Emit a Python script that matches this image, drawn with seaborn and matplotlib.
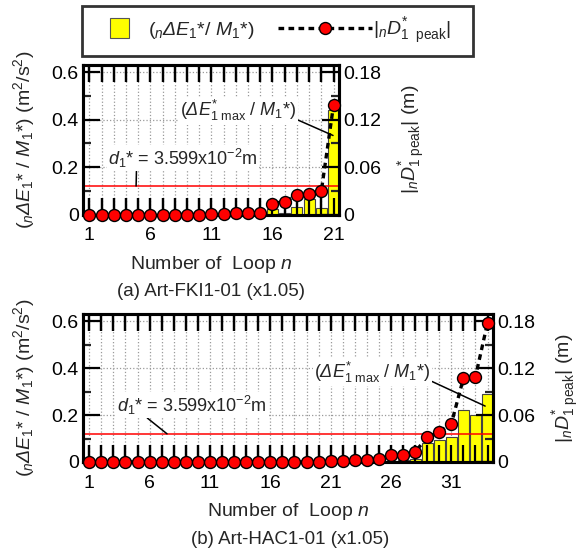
import numpy as np
import matplotlib
matplotlib.use("Agg")
import matplotlib.pyplot as plt
import matplotlib.patches as mpatches
from matplotlib.lines import Line2D
from matplotlib.legend_handler import HandlerPatch, HandlerBase
from matplotlib.ticker import MultipleLocator
import seaborn as sns

sns.set_theme(style="white")
plt.rcParams['font.family'] = ['Liberation Sans', 'DejaVu Sans']
plt.rcParams['mathtext.fontset'] = 'custom'
plt.rcParams['mathtext.rm'] = 'Liberation Sans'
plt.rcParams['mathtext.it'] = 'Liberation Sans:italic'
plt.rcParams['mathtext.sf'] = 'Liberation Sans:italic'
plt.rcParams['mathtext.bf'] = 'Liberation Sans:bold'

# ---------------- data ----------------
loops_a = list(range(1, 22))
energy_a = [0, 0, 0, 0, 0, 0, 0, 0, 0, 0, 0, 0, 0, 0, 0.002,
            0.025, 0.008, 0.032, 0.064, 0.028, 0.44]
disp_a = [0, 0, 0, 0, 0, 0, 0, 0, 0, 0, 0.0005, 0.001, 0.0015, 0.002, 0.0025,
          0.0138, 0.0164, 0.0243, 0.0265, 0.0294, 0.138]

loops_b = list(range(1, 35))
energy_b = [0] * 24 + [0.003, 0.005, 0.008, 0.014, 0.08, 0.094, 0.108,
                       0.22, 0.198, 0.289]
disp_b = [0] * 19 + [0.0005, 0.001, 0.0015, 0.002, 0.003, 0.004, 0.0085,
                     0.009, 0.013, 0.0315, 0.0385, 0.049, 0.107, 0.109, 0.178]

d1 = 0.03599
captions = ["(a) Art-FKI1-01 (x1.05)", "(b) Art-HAC1-01 (x1.05)"]

W, H = 582, 551
fig = plt.figure(figsize=(W / 100, H / 100), dpi=100)


def fx(px):
    return px / W


def fy(py):
    return 1 - py / H


FS = 14
AFS = 13
MS = 8.6
DASH = (0, (1.7, 1.3))
DEL = r'\mathsf{\Delta}'
ylab_left = r'$(_{n}' + DEL + r'E_{1}$* / $M_{1}$*) (m$^{2}$/s$^{2}$)'
ylab_right = r'$|_{n}D^{*}_{1\ \mathrm{peak}}|$ (m)'
ann_max = r'$(' + DEL + r'E^{*}_{1\ \mathrm{max}}$ / $M_{1}$*)'
ann_d1 = r'$d_{1}$* = 3.599x10$^{-2}$m'
leg_labels = [r'$(_{n}' + DEL + r'E_{1}$*/ $M_{1}$*)',
              r'$|_{n}D^{*}_{1\ \ \mathrm{peak}}|$' + '\u2007\u2007']


def panel(box, loops, energy, disp, xlim, caption, cap_x, cap_y,
          lab_l, lab_r, ann_xy, d1_pos, d1_line_x):
    left, top, right, bottom = box
    ax = fig.add_axes([fx(left), fy(bottom), fx(right - left), (bottom - top) / H])
    sns.barplot(x=loops, y=energy, native_scale=True, color='#ffff00',
                saturation=1, edgecolor='#444444', linewidth=0.8, width=0.9,
                ax=ax, zorder=2)
    ax.set_axisbelow(True)
    ax.set_xlim(*xlim)
    ax.set_ylim(0, 0.63)
    ax.set_xticks(loops)
    ax.set_xticklabels([str(i) if (i - 1) % 5 == 0 else '' for i in loops])
    ax.set_yticks([0, 0.2, 0.4, 0.6])
    ax.set_yticklabels(['0', '0.2', '0.4', '0.6'])
    ax.yaxis.set_minor_locator(MultipleLocator(0.1))
    ax.grid(True, which='major', color='#9a9a9a', linestyle=':', linewidth=0.9)
    ax.tick_params(axis='x', which='major', direction='in', length=12, width=1.6,
                   top=True, bottom=True, labelsize=FS, pad=9, colors='black')
    ax.tick_params(axis='y', which='major', direction='in', length=12, width=1.6,
                   left=True, labelsize=FS, pad=3, colors='black')
    ax.tick_params(axis='y', which='minor', direction='in', length=6, width=1.6,
                   left=True)
    ax.set_xlabel(r'Number of  Loop $n$', fontsize=FS, labelpad=7)
    ax.set_ylabel(ylab_left, fontsize=FS)
    ax.yaxis.set_label_coords(lab_l, 0.5)

    ax2 = ax.twinx()
    ax2.set_ylim(0, 0.189)
    ax2.set_yticks([0, 0.06, 0.12, 0.18])
    ax2.set_yticklabels(['0', '0.06', '0.12', '0.18'])
    ax2.yaxis.set_minor_locator(MultipleLocator(0.03))
    ax2.tick_params(axis='y', which='major', direction='in', length=12, width=1.6,
                    right=True, labelsize=FS, pad=3, colors='black')
    ax2.tick_params(axis='y', which='minor', direction='in', length=6, width=1.6,
                    right=True)
    ax2.xaxis.set_visible(True)
    ax2.tick_params(axis='x', which='major', direction='in', length=12, width=1.6,
                    top=True, bottom=True, labelbottom=False, labeltop=False,
                    colors='black')
    ax2.axhline(d1, color='#ff0000', linewidth=1.1, zorder=2)
    sns.lineplot(x=loops, y=disp, ax=ax2, color='black', linewidth=2.4,
                 linestyle=DASH, marker='o', markersize=MS,
                 markerfacecolor='#ff0000', markeredgecolor='black',
                 markeredgewidth=1.0, clip_on=False, zorder=5)
    ax2.set_ylabel(ylab_right, fontsize=FS)
    ax2.yaxis.set_label_coords(lab_r, 0.5)
    ax2.set_xlim(*xlim)

    for a in (ax, ax2):
        for s in a.spines.values():
            s.set_linewidth(2.2)
            s.set_color('black')

    # annotation for maximum
    ax2.annotate(ann_max, xy=ann_xy[0], xycoords=ax.transData,
                 xytext=ann_xy[1], textcoords=ax.transData,
                 fontsize=AFS, ha='center', va='center',
                 bbox=dict(facecolor='white', edgecolor='none', pad=1),
                 arrowprops=dict(arrowstyle='-', color='black', lw=1.1,
                                 shrinkA=0, shrinkB=0, relpos=(1.0, 0.15)),
                 zorder=6)
    # annotation for d1*
    ax2.annotate(ann_d1, xy=(d1_line_x, d1), xycoords=ax2.transData,
                 xytext=d1_pos, textcoords=ax.transData,
                 fontsize=AFS, ha='left', va='center',
                 bbox=dict(facecolor='white', edgecolor='none', pad=1),
                 arrowprops=dict(arrowstyle='-', color='black', lw=1.1,
                                 shrinkA=0, shrinkB=0, relpos=(0.19, 0.0)),
                 zorder=6)
    fig.text(fx(cap_x), fy(cap_y), caption, fontsize=FS - 0.5,
             ha='center', va='center')
    return ax, ax2


# panel (a)
panel((83, 65, 339, 214.5), loops_a, energy_a, disp_a, (0.48, 21.45),
      captions[0], 211, 292, -0.18, 1.226,
      ((20.96, 0.333), (13.2, 0.438)), (2.53, 0.2365), 4.83)

# panel (b)
panel((83, 314, 493, 462), loops_b, energy_b, disp_b, (0.48, 34.45),
      captions[1], 290, 539, -0.112, 1.14,
      ((33.8, 0.238), (24.46, 0.383)), (3.3, 0.2426), 7.44)


# legend
def square_patch(legend, orig_handle, xdescent, ydescent, width, height, fontsize):
    s = 14.0
    return mpatches.Rectangle((-xdescent + width / 2 - s / 2,
                               -ydescent + height / 2 - s / 2), s, s)


class LongLineHandler(HandlerBase):
    def __init__(self, ext_left, ext_right, **kw):
        super().__init__(**kw)
        self.ext_left = ext_left
        self.ext_right = ext_right

    def create_artists(self, legend, orig_handle, xdescent, ydescent,
                       width, height, fontsize, trans):
        y = height / 2 - ydescent
        x0 = -xdescent - self.ext_left
        x1 = -xdescent + width + self.ext_right
        line = Line2D([x0, x1], [y, y], color='black', linewidth=2.4,
                      linestyle=DASH, transform=trans)
        mk = Line2D([(x0 + x1) / 2], [y], linestyle='none', marker='o',
                    markersize=MS, markerfacecolor='#ff0000',
                    markeredgecolor='black', markeredgewidth=1.0,
                    transform=trans)
        return [line, mk]


h_bar = mpatches.Patch(facecolor='#ffff00', edgecolor='#555555', linewidth=0.8)
h_line = Line2D([], [], color='black', linewidth=2.4, linestyle=DASH,
                marker='o', markersize=MS, markerfacecolor='#ff0000',
                markeredgecolor='black', markeredgewidth=1.0)
leg = fig.legend([h_bar, h_line], leg_labels,
                 loc='upper left', bbox_to_anchor=(fx(82), fy(6)),
                 borderaxespad=0.0,
                 ncol=2, fontsize=FS, frameon=True, fancybox=False,
                 edgecolor='black', handlelength=2.83, handletextpad=0.05,
                 columnspacing=3.2, borderpad=0.5,
                 handler_map={mpatches.Patch: HandlerPatch(patch_func=square_patch),
                              Line2D: LongLineHandler(28.0, 0.0)})
leg.get_frame().set_linewidth(2.0)

fig.savefig('out.png', dpi=100)
